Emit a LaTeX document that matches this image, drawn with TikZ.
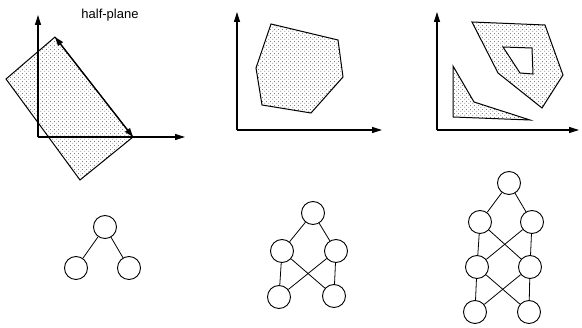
\documentclass[tikz,border=0pt]{standalone}
\usepackage{fontspec}
\setmainfont{Liberation Sans}
\usetikzlibrary{arrows.meta,patterns.meta}
\tikzdeclarepattern{
  name=mydots,
  type=uncolored,
  bounding box={(0pt,0pt) and (4pt,4pt)},
  tile size={(4pt,4pt)},
  code={\fill (1pt,1pt) circle (0.55pt); \fill (3pt,3pt) circle (0.55pt);}
}
\begin{document}
\begin{tikzpicture}[x=1pt,y=-1pt,
  axis/.style={line width=1.1pt,-{Triangle[length=10pt,width=6pt]}},
  region/.style={draw,line width=1pt,pattern=mydots,pattern color=black!70},
  hole/.style={draw,line width=1pt,fill=white},
  vtx/.style={circle,draw,line width=0.9pt,minimum size=23pt,inner sep=0pt},
  edge/.style={line width=0.8pt}]
\useasboundingbox (0,0) rectangle (582,328);
% panel 1
\draw[region] (55,37) -- (133,137) -- (80,180) -- (6,79) -- cycle;
\coordinate (o1) at (38,137);
\coordinate (y1) at (38,15);
\coordinate (x1) at (185,137);
\draw[axis] (o1) -- (y1);
\draw[axis] (o1) -- (x1);
\coordinate (e1) at (55,37);
\coordinate (e2) at (133,137);
\draw[line width=1.3pt,{Triangle[length=9pt,width=6pt]}-{Triangle[length=9pt,width=6pt]}] (e1) -- (e2);
\node (hp) at (110,15) {\fontsize{13}{15}\selectfont half-plane};
% panel 2
\draw[region] (271,24) -- (338,40) -- (343,77) -- (311,113) -- (262,105) -- (256,68) -- cycle;
\coordinate (o2) at (237,130);
\coordinate (y2) at (237,12);
\coordinate (x2) at (382,130);
\draw[axis] (o2) -- (y2);
\draw[axis] (o2) -- (x2);
% panel 3
\draw[region] (472,22) -- (545,25) -- (563,75) -- (542,108) -- (498,73) -- cycle;
\draw[hole] (503,47) -- (532,48) -- (533,74) -- (520,73) -- cycle;
\draw[region] (453,66) -- (474,102) -- (530,120) -- (453,117) -- cycle;
\coordinate (o3) at (437,130);
\coordinate (y3) at (437,12);
\coordinate (x3) at (579,130);
\draw[axis] (o3) -- (y3);
\draw[axis] (o3) -- (x3);
% tree 1
\node[vtx] (a1) at (105,227) {};
\node[vtx] (a2) at (76,268) {};
\node[vtx] (a3) at (129,268) {};
\draw[edge] (a1) -- (a2);
\draw[edge] (a1) -- (a3);
% tree 2
\node[vtx] (b1) at (313,213) {};
\node[vtx] (b2) at (282,251) {};
\node[vtx] (b3) at (336,251) {};
\node[vtx] (b4) at (279,297) {};
\node[vtx] (b5) at (334,296) {};
\draw[edge] (b1) -- (b2);
\draw[edge] (b1) -- (b3);
\draw[edge] (b2) -- (b4);
\draw[edge] (b3) -- (b5);
\draw[edge] (b2) -- (b5);
\draw[edge] (b3) -- (b4);
% tree 3
\node[vtx] (c1) at (509,183) {};
\node[vtx] (c2) at (480,222) {};
\node[vtx] (c3) at (532,222) {};
\node[vtx] (c4) at (477,267) {};
\node[vtx] (c5) at (530,267) {};
\node[vtx] (c6) at (475,312) {};
\node[vtx] (c7) at (529,312) {};
\draw[edge] (c1) -- (c2);
\draw[edge] (c1) -- (c3);
\draw[edge] (c2) -- (c4);
\draw[edge] (c3) -- (c5);
\draw[edge] (c2) -- (c5);
\draw[edge] (c3) -- (c4);
\draw[edge] (c4) -- (c6);
\draw[edge] (c5) -- (c7);
\draw[edge] (c4) -- (c7);
\draw[edge] (c5) -- (c6);
\end{tikzpicture}
\end{document}
